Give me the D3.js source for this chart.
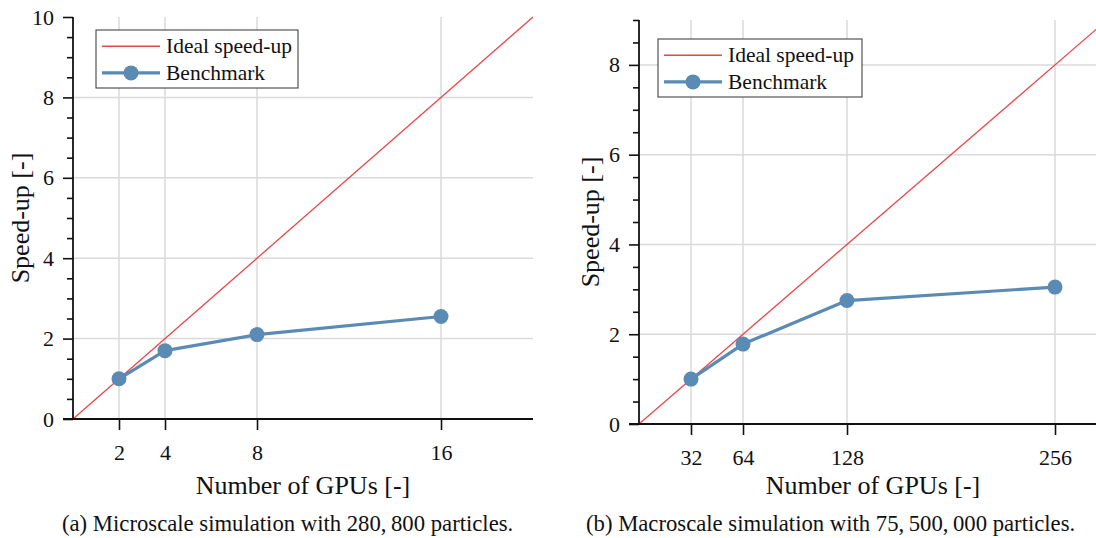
<!DOCTYPE html>
<html>
<head>
<meta charset="utf-8">
<script src="https://cdn.jsdelivr.net/npm/d3@7"></script>
<style>
  html, body { margin: 0; padding: 0; background: #fff; }
  svg { display: block; }
  text { font-family: "Liberation Serif", "Times New Roman", serif; fill: #111; }
</style>
</head>
<body>
<svg id="fig" width="1096" height="538"></svg>
<script>
// ---- data: microscale run (280,800 particles) ----
const microGpus = [2, 4, 8, 16];
const microSpeedup = [1.0, 1.7, 2.1, 2.55];
const microIdealX = [0, 20];
const microIdealY = [0, 10];
const microXTicks = [2, 4, 8, 16];
const microYTicks = [0, 2, 4, 6, 8, 10];

// ---- data: macroscale run (75,500,000 particles) ----
const macroGpus = [32, 64, 128, 256];
const macroSpeedup = [1.0, 1.78, 2.75, 3.05];
const macroIdealX = [0, 288];
const macroIdealY = [0, 9];
const macroXTicks = [32, 64, 128, 256];
const macroYTicks = [0, 2, 4, 6, 8];

const legendLabels = ["Ideal speed-up", "Benchmark"];
const xTitle = "Number of GPUs [-]";
const yTitle = "Speed-up [-]";
const captions = [
  "(a) Microscale simulation with 280,\u2009800 particles.",
  "(b) Macroscale simulation with 75,\u2009500,\u2009000 particles."
];

const RED = "#e8474b";
const BLUE = "#5a8bb5";
const GRID = "#dadada";

const svg = d3.select("#fig");

function panel(cfg) {
  const g = svg.append("g");
  const x = d3.scaleLinear().domain(cfg.xDomain).range([cfg.left, cfg.right]);
  const y = d3.scaleLinear().domain(cfg.yDomain).range([cfg.bottom, cfg.top]);

  // grid
  g.selectAll(".gx").data(cfg.xTicks).join("line")
    .attr("x1", d => x(d)).attr("x2", d => x(d))
    .attr("y1", cfg.top).attr("y2", cfg.bottom)
    .attr("stroke", GRID).attr("stroke-width", 1.5);
  g.selectAll(".gy").data(cfg.yTicks.filter(v => v > 0 && v < cfg.yDomain[1])).join("line")
    .attr("x1", cfg.left).attr("x2", cfg.right)
    .attr("y1", d => y(d)).attr("y2", d => y(d))
    .attr("stroke", GRID).attr("stroke-width", 1.5);

  // ideal speed-up
  const idealPts = cfg.idealX.map((v, i) => [v, cfg.idealY[i]]);
  g.append("path").datum(idealPts)
    .attr("d", d3.line().x(d => x(d[0])).y(d => y(d[1])))
    .attr("fill", "none").attr("stroke", RED).attr("stroke-width", 1.3);

  // benchmark
  const pts = cfg.gpus.map((v, i) => [v, cfg.speedup[i]]);
  g.append("path").datum(pts)
    .attr("d", d3.line().x(d => x(d[0])).y(d => y(d[1])))
    .attr("fill", "none").attr("stroke", BLUE).attr("stroke-width", 3.2)
    .attr("stroke-linejoin", "round");
  g.selectAll(".pt").data(pts).join("circle")
    .attr("cx", d => x(d[0])).attr("cy", d => y(d[1])).attr("r", 7.5)
    .attr("fill", BLUE);

  // y axis with major and minor ticks
  const minor = d3.range(0, cfg.yDomain[1] + 0.001, 0.5).filter(v => !cfg.yTicks.includes(v));
  const yAxisMajor = d3.axisLeft(y).tickValues(cfg.yTicks).tickSize(10).tickPadding(9).tickFormat(d3.format("d"));
  const yAxisMinor = d3.axisLeft(y).tickValues(minor).tickSize(6).tickFormat("");
  const ya = g.append("g").attr("transform", `translate(${cfg.left},0)`).call(yAxisMajor);
  const ym = g.append("g").attr("transform", `translate(${cfg.left},0)`).call(yAxisMinor);
  [ya, ym].forEach(a => {
    a.select(".domain").remove();
    a.selectAll(".tick line").attr("stroke", "#111").attr("stroke-width", 1.6);
  });
  ya.selectAll(".tick text").style("font-family", "Liberation Serif").style("font-size", "22px").attr("fill", "#111");
  g.append("line").attr("x1", cfg.left).attr("x2", cfg.left)
    .attr("y1", cfg.top).attr("y2", cfg.bottom)
    .attr("stroke", "#111").attr("stroke-width", 1.8);

  // x axis
  const xAxis = d3.axisBottom(x).tickValues(cfg.xTicks).tickSize(11).tickPadding(14).tickFormat(d3.format("d"));
  const xa = g.append("g").attr("transform", `translate(0,${cfg.bottom})`).call(xAxis);
  xa.select(".domain").remove();
  xa.selectAll(".tick line").attr("stroke", "#111").attr("stroke-width", 1.6);
  xa.selectAll(".tick text").style("font-family", "Liberation Serif").style("font-size", "22px").attr("fill", "#111");
  g.append("line").attr("x1", cfg.left - 10).attr("x2", cfg.right)
    .attr("y1", cfg.bottom).attr("y2", cfg.bottom)
    .attr("stroke", "#111").attr("stroke-width", 1.8);

  // axis titles
  g.append("text").attr("x", (cfg.left + cfg.right) / 2).attr("y", cfg.xTitleY)
    .attr("text-anchor", "middle").style("font-size", "26px").text(xTitle);
  g.append("text")
    .attr("transform", `translate(${cfg.yTitleX},${(cfg.top + cfg.bottom) / 2}) rotate(-90)`)
    .attr("text-anchor", "middle").attr("dy", "0.35em").style("font-size", "26px").text(yTitle);

  // legend
  const L = cfg.legend;
  g.append("rect").attr("x", L.x).attr("y", L.y).attr("width", L.w).attr("height", L.h)
    .attr("fill", "#fff").attr("stroke", "#333").attr("stroke-width", 1);
  const r1 = L.y + L.h * 0.28, r2 = L.y + L.h * 0.74;
  g.append("line").attr("x1", L.x + 6).attr("x2", L.x + 64).attr("y1", r1).attr("y2", r1)
    .attr("stroke", RED).attr("stroke-width", 1.3);
  g.append("line").attr("x1", L.x + 6).attr("x2", L.x + 64).attr("y1", r2).attr("y2", r2)
    .attr("stroke", BLUE).attr("stroke-width", 3.2);
  g.append("circle").attr("cx", L.x + 35).attr("cy", r2).attr("r", 7.5).attr("fill", BLUE);
  g.selectAll(".lt").data(legendLabels).join("text")
    .attr("x", L.x + 70).attr("y", (d, i) => i === 0 ? r1 : r2).attr("dy", "0.33em")
    .style("font-size", "21.5px").text(d => d);

  // caption
  g.append("text").attr("x", cfg.captionX).attr("y", 531).style("font-size", "22.7px").text(cfg.caption);
}

panel({
  left: 73, right: 533, top: 17, bottom: 419,
  xDomain: [0, 20], yDomain: [0, 10],
  xTicks: microXTicks, yTicks: microYTicks,
  gpus: microGpus, speedup: microSpeedup,
  idealX: microIdealX, idealY: microIdealY,
  xTitleY: 494, yTitleX: 20,
  legend: { x: 96, y: 30, w: 202, h: 58 },
  captionX: 62, caption: captions[0]
});

panel({
  left: 639, right: 1107, top: 20, bottom: 424,
  xDomain: [0, 288], yDomain: [0, 9],
  xTicks: macroXTicks, yTicks: macroYTicks,
  gpus: macroGpus, speedup: macroSpeedup,
  idealX: macroIdealX, idealY: macroIdealY,
  xTitleY: 494, yTitleX: 590,
  legend: { x: 658, y: 39, w: 204, h: 58 },
  captionX: 586, caption: captions[1]
});
</script>
</body>
</html>
